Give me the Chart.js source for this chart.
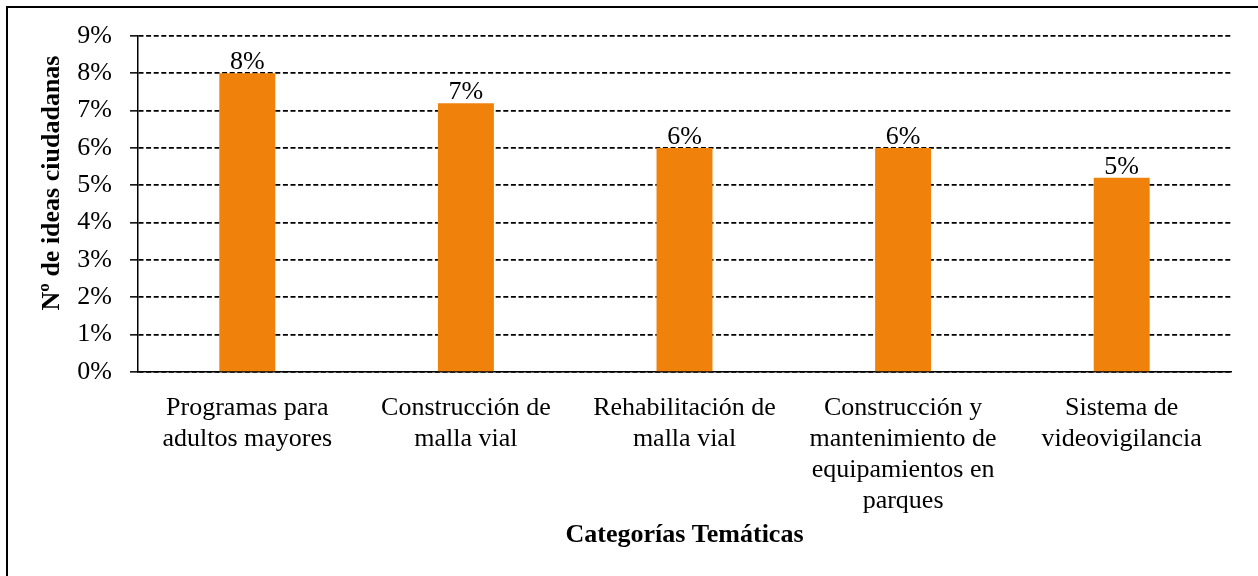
<!DOCTYPE html>
<html>
<head>
<meta charset="utf-8">
<script src="https://cdn.jsdelivr.net/npm/chart.js@4.4.0/dist/chart.umd.min.js"></script>
<style>
  body { margin: 0; background: #fff; overflow: hidden; }
  #frame { position: absolute; left: 6px; top: 6px; width: 1400px; height: 700px;
           border-left: 2px solid #000; border-top: 2px solid #000; pointer-events: none; }
  canvas { position: absolute; left: 0; top: 0; }
</style>
</head>
<body>
<canvas id="chart" width="1258" height="576"></canvas>
<div id="frame"></div>
<script>
// categorías (etiquetas en varias líneas) y porcentaje de ideas
const categories = [
  ['Programas para', 'adultos mayores'],
  ['Construcción de', 'malla vial'],
  ['Rehabilitación de', 'malla vial'],
  ['Construcción y', 'mantenimiento de', 'equipamientos en', 'parques'],
  ['Sistema de', 'videovigilancia']
];
const shares = [8.0, 7.2, 6.0, 6.0, 5.2];
const yMax = 9;

const yTitle = 'Nº de ideas ciudadanas';
const xTitle = 'Categorías Temáticas';

const FONT = '"Liberation Serif", "Times New Roman", serif';

// etiquetas de datos sobre cada barra
const barLabels = {
  id: 'barLabels',
  afterDatasetsDraw(chart) {
    const ctx = chart.ctx;
    const meta = chart.getDatasetMeta(0);
    ctx.save();
    ctx.font = '26px ' + FONT;
    ctx.fillStyle = '#000';
    ctx.textAlign = 'center';
    ctx.textBaseline = 'alphabetic';
    meta.data.forEach((bar, i) => {
      ctx.fillText(Math.round(shares[i]) + '%', bar.x, bar.y - 4);
    });
    ctx.restore();
  }
};

// título del eje Y (algo desplazado hacia arriba como en el original)
const yAxisTitle = {
  id: 'yAxisTitle',
  afterDraw(chart) {
    const ctx = chart.ctx;
    ctx.save();
    ctx.translate(52, 183);
    ctx.rotate(-Math.PI / 2);
    ctx.font = 'bold 26px ' + FONT;
    ctx.fillStyle = '#000';
    ctx.textAlign = 'center';
    ctx.textBaseline = 'middle';
    ctx.fillText(yTitle, 0, 0);
    ctx.restore();
  }
};

new Chart(document.getElementById('chart'), {
  type: 'bar',
  data: {
    labels: categories,
    datasets: [{
      data: shares,
      backgroundColor: 'rgb(240,130,12)',
      borderWidth: 0,
      categoryPercentage: 1,
      barPercentage: 0.256
    }]
  },
  options: {
    responsive: false,
    animation: false,
    devicePixelRatio: 1,
    layout: { padding: { left: 0, right: 27, top: 36, bottom: 0 } },
    plugins: {
      legend: { display: false },
      tooltip: { enabled: false }
    },
    scales: {
      x: {
        grid: { display: false, drawTicks: false },
        border: { display: true, color: '#000', width: 1.5 },
        ticks: {
          color: '#000',
          padding: 21,
          maxRotation: 0,
          autoSkip: false,
          font: { family: FONT, size: 26, lineHeight: 1.19 }
        },
        title: {
          display: true,
          text: xTitle,
          color: '#000',
          padding: { top: 0, bottom: 25 },
          font: { family: FONT, size: 26, weight: 'bold' }
        },
        afterFit(scale) { scale.height = 204; }
      },
      y: {
        min: 0,
        max: yMax,
        grid: {
          color: '#000',
          lineWidth: 1.7,
          drawTicks: true,
          tickLength: 8,
          tickColor: '#000',
          tickWidth: 1.5,
          tickBorderDash: []
        },
        border: { display: true, color: '#000', width: 1.5, dash: [5, 2.6] },
        ticks: {
          stepSize: 1,
          color: '#000',
          padding: 18,
          font: { family: FONT, size: 26 },
          callback: v => v + '%'
        },
        afterFit(scale) { scale.width = 138; }
      }
    }
  },
  plugins: [barLabels, yAxisTitle]
});
</script>
</body>
</html>
